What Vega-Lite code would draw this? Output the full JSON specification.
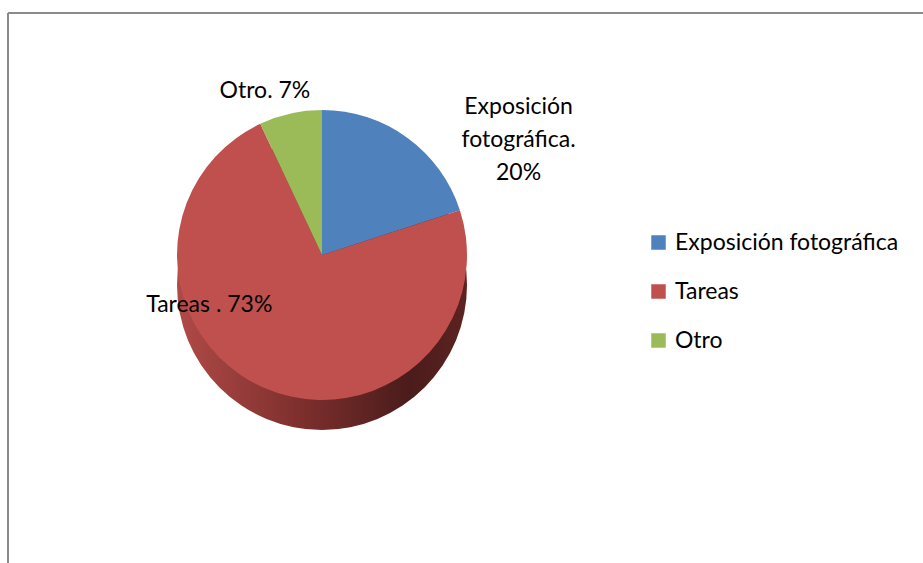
{
  "$schema": "https://vega.github.io/schema/vega-lite/v6.json",
  "width": 915,
  "height": 550,
  "autosize": {"type": "none"},
  "padding": {"left": 8, "top": 13, "right": 0, "bottom": 0},
  "background": "white",
  "config": {"view": {"stroke": null}, "font": "Lato"},
  "data": {
    "values": [
      {"categoria": "Exposición fotográfica", "valor": 20, "orden": 1, "etiqueta": "Exposición\nfotográfica.\n20%"},
      {"categoria": "Tareas", "valor": 73, "orden": 2, "etiqueta": "Tareas . 73%"},
      {"categoria": "Otro", "valor": 7, "orden": 3, "etiqueta": "Otro. 7%"}
    ]
  },
  "layer": [
    {
      "mark": {"type": "rule", "color": "#8a8a8a", "strokeWidth": 1.5},
      "encoding": {"x": {"value": 0}, "y": {"value": 0}, "y2": {"value": 550}}
    },
    {
      "mark": {"type": "rule", "color": "#8a8a8a", "strokeWidth": 1.5},
      "encoding": {"y": {"value": 0}, "x": {"value": 0}, "x2": {"value": 915}}
    },
    {
      "transform": [{"filter": "datum.orden == 2"}],
      "mark": {
        "type": "arc",
        "x": 314,
        "y": 272,
        "radius": 145,
        "color": {
          "gradient": "linear",
          "x1": 0, "x2": 1, "y1": 0, "y2": 0,
          "stops": [
            {"offset": 0, "color": "#b04a47"},
            {"offset": 0.45, "color": "#7a2e2c"},
            {"offset": 0.8, "color": "#4a1c1b"},
            {"offset": 1, "color": "#5c2321"}
          ]
        }
      },
      "encoding": {}
    },
    {
      "mark": {"type": "arc", "x": 314, "y": 242, "radius": 145},
      "encoding": {
        "theta": {"field": "valor", "type": "quantitative", "stack": true},
        "order": {"field": "orden", "type": "quantitative"},
        "color": {
          "field": "categoria",
          "type": "nominal",
          "scale": {
            "domain": ["Exposición fotográfica", "Tareas", "Otro"],
            "range": ["#4f81bd", "#c0504d", "#9bbb59"]
          },
          "legend": {
            "orient": "none",
            "legendX": 639,
            "legendY": 218,
            "title": null,
            "symbolType": "square",
            "symbolSize": 210,
            "symbolStrokeWidth": 0,
            "labelFontSize": 23,
            "labelFont": "Lato",
            "labelColor": "#000000",
            "labelOffset": 5,
            "rowPadding": 25,
            "labelLimit": 400
          }
        }
      }
    },
    {
      "mark": {"type": "text", "x": 314, "y": 242, "radius": 200, "dx": 79, "dy": 14, "fontSize": 23, "color": "#000000", "lineBreak": "\n", "lineHeight": 33, "align": "center", "baseline": "middle"},
      "encoding": {
        "theta": {"field": "valor", "type": "quantitative", "stack": true},
        "order": {"field": "orden", "type": "quantitative"},
        "detail": {"field": "categoria"},
        "text": {"condition": {"test": "datum.orden == 1", "field": "etiqueta"}, "value": ""}
      }
    },
    {
      "mark": {"type": "text", "x": 314, "y": 242, "radius": 90, "dx": -77, "dy": -33, "fontSize": 23, "color": "#000000", "align": "center", "baseline": "middle"},
      "encoding": {
        "theta": {"field": "valor", "type": "quantitative", "stack": true},
        "order": {"field": "orden", "type": "quantitative"},
        "detail": {"field": "categoria"},
        "text": {"condition": {"test": "datum.orden == 2", "field": "etiqueta"}, "value": ""}
      }
    },
    {
      "mark": {"type": "text", "x": 314, "y": 242, "radius": 170, "dx": -20, "dy": 2, "fontSize": 23, "color": "#000000", "align": "center", "baseline": "middle"},
      "encoding": {
        "theta": {"field": "valor", "type": "quantitative", "stack": true},
        "order": {"field": "orden", "type": "quantitative"},
        "detail": {"field": "categoria"},
        "text": {"condition": {"test": "datum.orden == 3", "field": "etiqueta"}, "value": ""}
      }
    }
  ]
}
